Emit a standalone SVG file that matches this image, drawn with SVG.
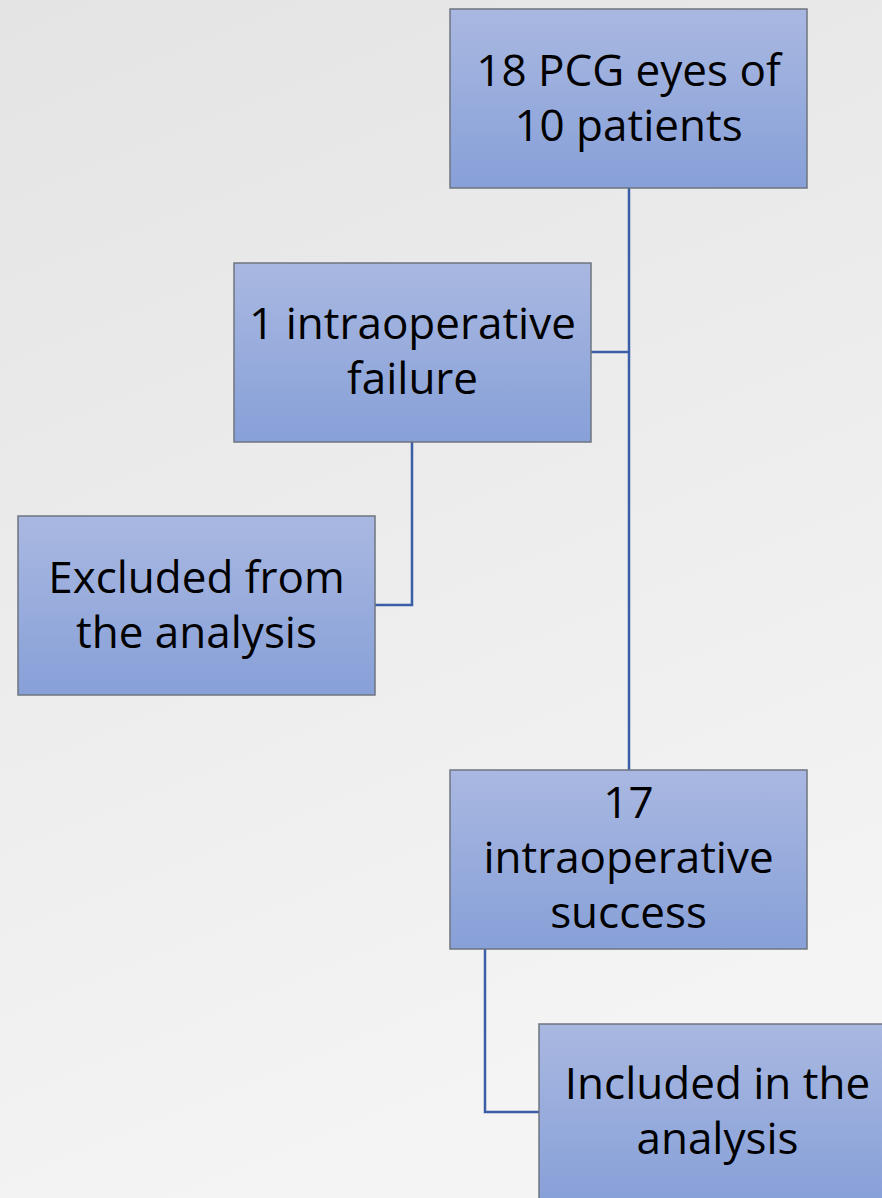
<svg xmlns="http://www.w3.org/2000/svg" width="882" height="1198" viewBox="0 0 882 1198">
  <defs>
    <linearGradient id="bg" x1="0" y1="0" x2="0.3" y2="1">
      <stop offset="0" stop-color="#e4e4e4"/>
      <stop offset="1" stop-color="#f4f4f4"/>
    </linearGradient>
    <linearGradient id="boxFill" x1="0" y1="0" x2="0" y2="1">
      <stop offset="0" stop-color="#a9b8e1"/>
      <stop offset="1" stop-color="#87a0d8"/>
    </linearGradient>
  </defs>
  <style>
    .box { fill: url(#boxFill); stroke: #6e7480; stroke-width: 1.5; }
    .label { font-family: "Open Sans", "Liberation Sans", sans-serif; font-size: 44px; fill: #000; text-anchor: middle; }
    .link { fill: none; stroke: #3b5ea8; stroke-width: 2.5; }
  </style>
  <rect width="882" height="1198" fill="url(#bg)"/>

  <g id="connectors">
    <path class="link" d="M629,188 V770"/>
    <path class="link" d="M591,352 H629"/>
    <path class="link" d="M412,442 V605 H375"/>
    <path class="link" d="M485,949 V1112 H539"/>
  </g>

  <g id="node-total">
    <rect class="box" x="450" y="9" width="357" height="179"/>
    <text class="label" x="628.5" y="86">18 PCG eyes of</text>
    <text class="label" x="628.5" y="141">10 patients</text>
  </g>

  <g id="node-failure">
    <rect class="box" x="234" y="263" width="357" height="179"/>
    <text class="label" x="412.5" y="339">1 intraoperative</text>
    <text class="label" x="412.5" y="394">failure</text>
  </g>

  <g id="node-excluded">
    <rect class="box" x="18" y="516" width="357" height="179"/>
    <text class="label" x="196.5" y="593">Excluded from</text>
    <text class="label" x="196.5" y="648">the analysis</text>
  </g>

  <g id="node-success">
    <rect class="box" x="450" y="770" width="357" height="179"/>
    <text class="label" x="628.5" y="818">17</text>
    <text class="label" x="628.5" y="873">intraoperative</text>
    <text class="label" x="628.5" y="928">success</text>
  </g>

  <g id="node-included">
    <rect class="box" x="539" y="1024" width="357" height="179"/>
    <text class="label" x="717.5" y="1099">Included in the</text>
    <text class="label" x="717.5" y="1154">analysis</text>
  </g>
</svg>
